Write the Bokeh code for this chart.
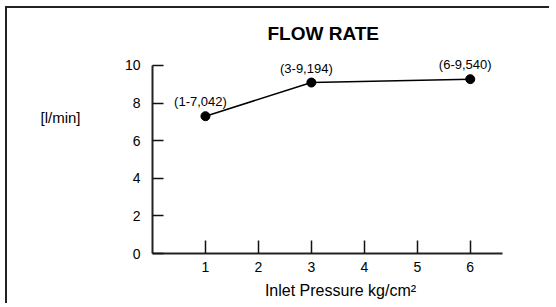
from bokeh.plotting import figure
from bokeh.models import Range1d, FixedTicker, LinearAxis
from bokeh.core.properties import value
from bokeh.embed import file_html
from bokeh.resources import INLINE

# ---- data ----
pressure = [1, 3, 6]
flow = [7.3, 9.09, 9.27]
point_labels = ["(1-7,042)", "(3-9,194)", "(6-9,540)"]
x_ticks = [1, 2, 3, 4, 5, 6]
y_ticks = [0, 2, 4, 6, 8, 10]
title_text = "FLOW RATE"
x_title = "Inlet Pressure kg/cm²"
y_title = "[l/min]"
y_title_pos = 7.25

FONT = "Liberation Sans"

p = figure(width=544, height=297, output_backend="svg", toolbar_location=None,
           x_range=Range1d(0, 7.1), y_range=Range1d(0, 10.9),
           min_border_left=145, min_border_right=23,
           min_border_top=40, min_border_bottom=52)

p.styles = {"margin-left": "5px", "margin-top": "6px",
            "border-left": "2px solid #222", "border-top": "2px solid #222"}

p.title.text = title_text
p.title.text_font = FONT
p.title.text_font_size = "19px"
p.title.text_font_style = "bold"
p.title.align = "left"
p.title.offset = 115
p.title.text_color = "black"

p.grid.visible = False
p.outline_line_color = None
p.background_fill_color = "white"
p.border_fill_color = "white"

xa = p.xaxis[0]
xa.ticker = FixedTicker(ticks=x_ticks)
xa.bounds = (0, 6.6)
xa.major_tick_in = 13
xa.major_tick_out = 0
xa.minor_tick_line_color = None
xa.major_label_standoff = 8
xa.axis_line_width = 2
xa.axis_line_color = "#222"
xa.major_tick_line_width = 1.5
xa.major_tick_line_color = "#111"
xa.major_label_text_font = FONT
xa.major_label_text_font_size = "14px"
xa.major_label_text_color = "black"
xa.axis_label = x_title
xa.axis_label_text_font = FONT
xa.axis_label_text_font_size = "16px"
xa.axis_label_text_font_style = "normal"
xa.axis_label_text_color = "black"
xa.axis_label_standoff = 7

ya = p.yaxis[0]
ya.ticker = FixedTicker(ticks=y_ticks)
ya.bounds = (0, 10)
ya.major_tick_in = 11
ya.major_tick_out = 0
ya.minor_tick_line_color = None
ya.major_label_standoff = 12
ya.axis_line_width = 2
ya.axis_line_color = "#222"
ya.major_tick_line_width = 1.5
ya.major_tick_line_color = "#111"
ya.major_label_text_font = FONT
ya.major_label_text_font_size = "14px"
ya.major_label_text_color = "black"

# unit label placed as the single tick label of a bare extra axis
ua = LinearAxis(ticker=FixedTicker(ticks=[y_title_pos]),
                major_label_overrides={y_title_pos: y_title})
ua.axis_line_color = None
ua.major_tick_line_color = None
ua.minor_tick_line_color = None
ua.major_tick_out = 0
ua.major_tick_in = 0
ua.major_label_standoff = 41
ua.major_label_text_font = FONT
ua.major_label_text_font_size = "15px"
ua.major_label_text_color = "black"
p.add_layout(ua, "left")

p.line(pressure, flow, line_color="black", line_width=1.5)
p.scatter(pressure, flow, size=9, fill_color="black", line_color="black")
p.text(x=pressure, y=flow, text=point_labels, x_offset=-5, y_offset=-7,
       text_align="center", text_baseline="bottom",
       text_font=value(FONT), text_font_size="13px", text_color="black")

open("out.html", "w").write(file_html(p, INLINE))
